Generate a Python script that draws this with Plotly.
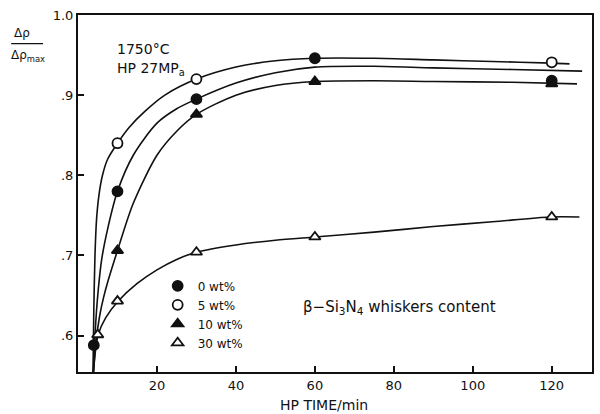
import plotly.graph_objects as go

# Measured points (HP time in min, relative densification)
x_0 = [4, 10, 30, 60, 120]
y_0 = [0.588, 0.78, 0.895, 0.946, 0.918]
x_5 = [10, 30, 120]
y_5 = [0.84, 0.92, 0.941]
x_10 = [10, 30, 60, 120]
y_10 = [0.706, 0.876, 0.917, 0.914]
x_30 = [5, 10, 30, 60, 120]
y_30 = [0.601, 0.643, 0.704, 0.723, 0.748]

# Hand-drawn fitted curves
cx_a = [3.8, 4.0, 4.3, 4.7, 5.3, 6.2, 7.5, 10, 13, 17, 22, 30, 40, 50, 60, 75, 90, 105, 120, 124.5]
cy_a = [0.554, 0.63, 0.70, 0.745, 0.775, 0.80, 0.82, 0.84, 0.86, 0.88, 0.90, 0.92, 0.935,
        0.943, 0.946, 0.946, 0.944, 0.942, 0.940, 0.939]
cx_b = [3.9, 4.3, 5.0, 6.0, 7.6, 10, 14, 20, 25, 30, 40, 50, 60, 75, 90, 110, 127.7]
cy_b = [0.554, 0.60, 0.65, 0.695, 0.735, 0.78, 0.825, 0.865, 0.883, 0.895, 0.915, 0.928,
        0.935, 0.936, 0.934, 0.932, 0.930]
cx_c = [3.9, 4.5, 5.5, 6.5, 7.6, 10, 14, 20, 25, 30, 40, 50, 60, 75, 90, 110, 126.4]
cy_c = [0.554, 0.59, 0.625, 0.648, 0.668, 0.706, 0.765, 0.825, 0.855, 0.876, 0.900, 0.912,
        0.917, 0.918, 0.917, 0.916, 0.914]
cx_d = [3.9, 4.4, 5.1, 7, 10.2, 15, 20, 25, 30, 40, 50, 60, 75, 90, 105, 119.6, 127]
cy_d = [0.554, 0.58, 0.601, 0.622, 0.643, 0.665, 0.682, 0.695, 0.704, 0.713, 0.719, 0.723,
        0.729, 0.736, 0.742, 0.748, 0.748]

x_ticks = [20, 40, 60, 80, 100, 120]
y_ticks = [0.6, 0.7, 0.8, 0.9, 1.0]
y_tick_text = [".6", ".7", ".8", ".9", "1.0"]

FONT = "DejaVu Sans"
ink = "#111111"

fig = go.Figure()
for cx, cy in [(cx_a, cy_a), (cx_b, cy_b), (cx_c, cy_c), (cx_d, cy_d)]:
    fig.add_trace(go.Scatter(x=cx, y=cy, mode="lines", showlegend=False,
                             line=dict(color=ink, width=1.6, shape="spline", smoothing=0.8),
                             hoverinfo="skip"))

series = [
    ("0 wt%", x_0, y_0, "circle", ink),
    ("5 wt%", x_5, y_5, "circle", "white"),
    ("10 wt%", x_10, y_10, "triangle-up", ink),
    ("30 wt%", x_30, y_30, "triangle-up", "white"),
]
for name, xs, ys, sym, fill in series:
    fig.add_trace(go.Scatter(
        x=xs, y=ys, mode="markers", name=name,
        marker=dict(symbol=sym, size=10, color=fill, line=dict(color=ink, width=1.8)),
    ))

fig.update_layout(
    width=600, height=414,
    margin=dict(l=78, r=6, t=15, b=42),
    paper_bgcolor="white", plot_bgcolor="white",
    font=dict(family=FONT, size=13, color=ink),
    legend=dict(x=0.155, y=0.282, xanchor="left", yanchor="top",
                bgcolor="rgba(0,0,0,0)", font=dict(size=12), tracegroupgap=0,
                itemwidth=30),
    showlegend=True,
)
fig.update_xaxes(range=[0, 130.2], tickvals=x_ticks, ticks="inside", ticklen=6,
                 tickwidth=1.5, tickcolor=ink, showline=True, linewidth=2, linecolor=ink,
                 mirror=True, showgrid=False, zeroline=False,
                 tickfont=dict(size=13))
fig.update_yaxes(range=[0.5545, 1.0], tickvals=y_ticks, ticktext=y_tick_text,
                 ticks="inside", ticklen=6, tickwidth=1.5, tickcolor=ink,
                 showline=True, linewidth=2, linecolor=ink, mirror=True,
                 showgrid=False, zeroline=False, tickfont=dict(size=13))

fig.add_annotation(text="HP TIME/min", xref="paper", yref="paper", x=0.478, y=-0.092,
                   xanchor="center", yanchor="middle", showarrow=False, font=dict(size=14))
fig.add_annotation(text="1750°C", xref="paper", yref="paper", x=0.072, y=0.905,
                   xanchor="left", yanchor="middle", showarrow=False, font=dict(size=14))
fig.add_annotation(text="HP 27MP<sub>a</sub>", xref="paper", yref="paper", x=0.072, y=0.848,
                   xanchor="left", yanchor="middle", showarrow=False, font=dict(size=14))
fig.add_annotation(text="β−Si<sub>3</sub>N<sub>4</sub> whiskers content", xref="paper", yref="paper",
                   x=0.433, y=0.18, xanchor="left", yanchor="middle", showarrow=False,
                   font=dict(size=15))
fig.add_annotation(text="Δρ", xref="paper", yref="paper", x=-0.108, y=0.95,
                   xanchor="center", yanchor="middle", showarrow=False, font=dict(size=12))
fig.add_annotation(text="Δρ<sub>max</sub>", xref="paper", yref="paper", x=-0.098, y=0.885,
                   xanchor="center", yanchor="middle", showarrow=False, font=dict(size=12))
fig.add_shape(type="line", xref="paper", yref="paper", x0=-0.13, x1=-0.068, y0=0.92, y1=0.92,
              line=dict(color=ink, width=1.2))

fig.write_html("out.html")
